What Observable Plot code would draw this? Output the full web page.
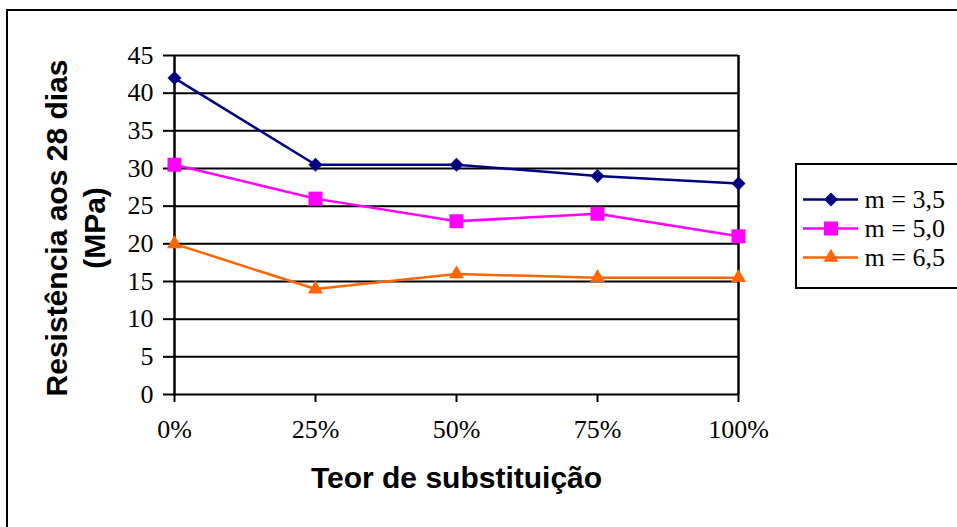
<!DOCTYPE html>
<html>
<head>
<meta charset="utf-8">
<script src="https://cdn.jsdelivr.net/npm/d3@7"></script>
<script src="https://cdn.jsdelivr.net/npm/@observablehq/plot@0.6"></script>
<style>
  html, body { margin: 0; padding: 0; background: white; }
  body { width: 957px; height: 527px; overflow: hidden; position: relative; }
  #chart { position: absolute; left: 0; top: 0; }
  #frame { position: absolute; left: 6px; top: 9px; width: 1100px; height: 700px; border: 2px solid black; pointer-events: none; }
  #legend { position: absolute; left: 795px; top: 163px; width: 220px; height: 126px; border: 2px solid black; box-sizing: border-box; background: white; }
</style>
</head>
<body>
<div id="chart"></div>
<div id="legend"></div>
<div id="frame"></div>
<script>
const categories = ["0%", "25%", "50%", "75%", "100%"];
const seriesNames = ["m = 3,5", "m = 5,0", "m = 6,5"];
const m35 = [42, 30.5, 30.5, 29, 28];
const m50 = [30.5, 26, 23, 24, 21];
const m65 = [20, 14, 16, 15.5, 15.5];
const yTicks = [0, 5, 10, 15, 20, 25, 30, 35, 40, 45];
const seriesColors = ["#000080", "#FF00FF", "#FF6600"];
const seriesSymbols = ["diamond2", "square", "triangle"];
const symbolR = [6.3, 7.9, 5.6];
const yTitle = ["Resistência aos 28 dias", "(MPa)"];
const xTitle = "Teor de substituição";

const serif = "'Liberation Serif', 'Times New Roman', serif";
const sans = "'Liberation Sans', Arial, sans-serif";

const seriesValues = [m35, m50, m65];
const data = seriesValues.flatMap((vals, si) =>
  vals.map((v, i) => ({ series: seriesNames[si], cat: categories[i], value: v })));

const dotMarks = seriesNames.map((name, si) =>
  Plot.dot(data.filter(d => d.series === name), {
    x: "cat", y: "value", symbol: "series", fill: "series", r: symbolR[si], stroke: "none"
  }));

const chart = Plot.plot({
  width: 957,
  height: 527,
  marginLeft: 174,
  marginRight: 219,
  marginTop: 55,
  marginBottom: 133,
  style: { fontFamily: serif, fontSize: "26px", color: "black", background: "transparent" },
  x: { type: "point", domain: categories, padding: 0 },
  y: { domain: [0, 45] },
  color: { domain: seriesNames, range: seriesColors },
  symbol: { domain: seriesNames, range: seriesSymbols },
  marks: [
    Plot.ruleY(yTicks, { stroke: "black", strokeWidth: 2 }),
    Plot.ruleX([categories[0], categories[categories.length - 1]], { stroke: "black", strokeWidth: 2.5 }),
    Plot.axisY({ ticks: yTicks, tickSize: 11, strokeWidth: 2, tickFormat: () => "", label: null }),
    Plot.axisX({ tickSize: 8, strokeWidth: 2, tickFormat: () => "", label: null }),
    Plot.text(yTicks, {
      y: d => d, text: d => String(d), frameAnchor: "left", dx: -21, textAnchor: "end",
      fontFamily: serif, fontSize: 26, fill: "black"
    }),
    Plot.text(categories, {
      x: d => d, text: d => d, frameAnchor: "bottom", dy: 43, textAnchor: "middle",
      fontFamily: serif, fontSize: 26, fill: "black"
    }),
    Plot.line(data, { x: "cat", y: "value", z: "series", stroke: "series", strokeWidth: 2.5 }),
    ...dotMarks,
    Plot.text([yTitle.join("\n")], {
      frameAnchor: "left", rotate: -90, dx: -101, dy: 3, textAnchor: "middle",
      fontFamily: sans, fontWeight: "bold", fontSize: 30, lineHeight: 1.27
    }),
    Plot.text([xTitle], {
      frameAnchor: "bottom", dy: 93, textAnchor: "middle",
      fontFamily: sans, fontWeight: "bold", fontSize: 30
    })
  ]
});
document.getElementById("chart").append(chart);

const legendDots = seriesNames.map((name, si) =>
  Plot.dot([name], { x: 0.5, y: d => d, symbol: d => d, fill: d => d, r: symbolR[si] }));

const legend = Plot.plot({
  width: 200,
  height: 122,
  margin: 0,
  style: { fontFamily: serif, fontSize: "26px", color: "black", background: "transparent" },
  x: { domain: [0, 1], range: [6, 61], axis: null },
  y: { type: "point", domain: seriesNames, range: [19, 106], axis: null },
  color: { domain: seriesNames, range: seriesColors },
  symbol: { domain: seriesNames, range: seriesSymbols },
  marks: [
    Plot.ruleY(seriesNames, { y: d => d, x1: 0, x2: 1, stroke: d => d, strokeWidth: 2.5 }),
    ...legendDots,
    Plot.text(seriesNames, { x: 1, y: d => d, dx: 6, textAnchor: "start", fontFamily: serif, fontSize: 26 })
  ]
});
document.getElementById("legend").append(legend);
</script>
</body>
</html>
